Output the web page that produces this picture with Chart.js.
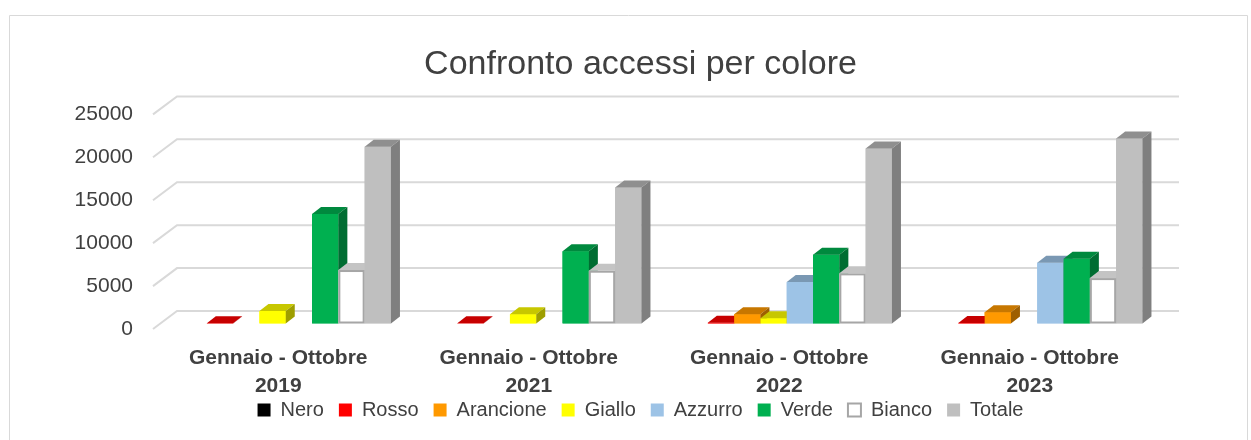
<!DOCTYPE html>
<html lang="it">
<head>
<meta charset="UTF-8">
<title>Confronto accessi per colore</title>
<script src="https://cdn.jsdelivr.net/npm/chart.js"></script>
<style>
    body {
        margin: 0;
        background-color: #fff;
    }

    .chart-container {
        width: 1251px;
        height: 440px;
    }
</style>
</head>
<body>
<div class="chart-container">
    <canvas id="accessiChart"></canvas>
</div>
<script>
    // Dati (accessi gennaio - ottobre per anno)
    var periodi = [['Gennaio - Ottobre', '2019'], ['Gennaio - Ottobre', '2021'], ['Gennaio - Ottobre', '2022'], ['Gennaio - Ottobre', '2023']];
    var nero = [0, 0, 0, 0];
    var rosso = [40, 30, 90, 70];
    var arancione = [0, 0, 1090, 1320];
    var giallo = [1460, 1090, 620, 0];
    var azzurro = [0, 0, 4830, 7080];
    var verde = [12770, 8410, 8020, 7550];
    var bianco = [6230, 6150, 5840, 5290];
    var totale = [20600, 15850, 20400, 21550];
    var tickY = [0, 5000, 10000, 15000, 20000, 25000];

    // Spostamenti per l'effetto 3D
    var OFF_X = 7.5, OFF_Y = -5.5;   // barre rispetto al piano frontale
    var DEP_X = 9, DEP_Y = 7;         // profondita' delle barre
    var BACK_X = 24, BACK_Y = 18;     // parete di fondo

    function scurisci(hex, f) {
        var n = parseInt(hex.slice(1), 16);
        var r = Math.round(((n >> 16) & 255) * f);
        var g = Math.round(((n >> 8) & 255) * f);
        var b = Math.round((n & 255) * f);
        return 'rgb(' + r + ',' + g + ',' + b + ')';
    }

    function serie(nome, valori, colore, extra) {
        var ds = {
            label: nome,
            data: valori,
            backgroundColor: colore,
            borderWidth: 0,
            topColor: scurisci(colore, 0.78),
            sideColor: scurisci(colore, 0.62)
        };
        for (var k in extra) ds[k] = extra[k];
        return ds;
    }

    var effetto3d = {
        id: 'effetto3d',
        afterLayout: function(chart) {
            // l'asse x non deve tagliare la seconda riga delle etichette
            var x = chart.scales.x;
            x.bottom = x.top + 80;
        },
        beforeDraw: function(chart) {
            var ctx = chart.ctx;
            ctx.save();
            ctx.strokeStyle = '#d9d9d9';
            ctx.lineWidth = 1;
            ctx.beginPath();
            ctx.moveTo(9.5, 440);
            ctx.lineTo(9.5, 15.5);
            ctx.lineTo(1247.5, 15.5);
            ctx.lineTo(1247.5, 440);
            ctx.stroke();
            ctx.restore();
        },
        beforeDatasetsDraw: function(chart) {
            var ctx = chart.ctx, a = chart.chartArea, y = chart.scales.y;
            ctx.save();
            ctx.strokeStyle = '#d9d9d9';
            ctx.lineWidth = 2;
            y.ticks.forEach(function(t) {
                var py = y.getPixelForValue(t.value);
                ctx.beginPath();
                ctx.moveTo(a.left, py);
                ctx.lineTo(a.left + BACK_X, py - BACK_Y);
                ctx.lineTo(a.right + BACK_X, py - BACK_Y);
                ctx.stroke();
            });
            ctx.restore();
            ctx.save();
            ctx.translate(OFF_X, OFF_Y);
        },
        afterDatasetsDraw: function(chart) {
            var ctx = chart.ctx;
            var sets = chart.data.datasets;
            // ridisegno per categoria, da sinistra a destra, per sovrapporre bene le facce
            for (var j = 0; j < periodi.length; j++) {
                for (var i = 0; i < sets.length; i++) {
                    var ds = sets[i];
                    var v = ds.data[j];
                    if (!v) continue;
                    var bar = chart.getDatasetMeta(i).data[j];
                    var l = bar.x - bar.width / 2, r = bar.x + bar.width / 2;
                    var top = bar.y, base = bar.base;
                    ctx.fillStyle = ds.backgroundColor;
                    ctx.fillRect(l, top, r - l, base - top);
                    if (ds.borderWidth) {
                        ctx.strokeStyle = ds.borderColor;
                        ctx.lineWidth = ds.borderWidth;
                        ctx.strokeRect(l + 1, top + 1, r - l - 2, base - top - 2);
                    }
                    ctx.fillStyle = ds.topColor;
                    ctx.beginPath();
                    ctx.moveTo(l, top);
                    ctx.lineTo(r, top);
                    ctx.lineTo(r + DEP_X, top - DEP_Y);
                    ctx.lineTo(l + DEP_X, top - DEP_Y);
                    ctx.closePath();
                    ctx.fill();
                    ctx.fillStyle = ds.sideColor;
                    ctx.beginPath();
                    ctx.moveTo(r, top);
                    ctx.lineTo(r + DEP_X, top - DEP_Y);
                    ctx.lineTo(r + DEP_X, base - DEP_Y);
                    ctx.lineTo(r, base);
                    ctx.closePath();
                    ctx.fill();
                }
            }
            ctx.restore();
        }
    };

    Chart.defaults.font.family = "'Liberation Sans', Arial, sans-serif";
    Chart.defaults.color = '#404040';

    var ctx = document.getElementById('accessiChart').getContext('2d');
    var accessiChart = new Chart(ctx, {
        type: 'bar',
        data: {
            labels: periodi,
            datasets: [
                serie('Nero', nero, '#000000'),
                serie('Rosso', rosso, '#ff0000'),
                serie('Arancione', arancione, '#ff9900'),
                serie('Giallo', giallo, '#ffff00'),
                serie('Azzurro', azzurro, '#9dc3e6'),
                serie('Verde', verde, '#00b050'),
                serie('Bianco', bianco, '#ffffff', {
                    borderColor: '#a6a6a6',
                    borderWidth: 2,
                    borderSkipped: false,
                    topColor: '#c4c4c4',
                    sideColor: '#a6a6a6'
                }),
                serie('Totale', totale, '#bfbfbf', { sideColor: '#7f7f7f', topColor: '#8f8f8f' })
            ]
        },
        options: {
            responsive: true,
            maintainAspectRatio: false,
            animation: false,
            categoryPercentage: 0.84,
            barPercentage: 1.0,
            layout: {
                padding: { top: 15, left: 30, right: 0, bottom: 10 }
            },
            plugins: {
                title: {
                    display: true,
                    text: 'Confronto accessi per colore',
                    color: '#404040',
                    font: { size: 34, weight: 'normal' },
                    padding: { top: 29, bottom: 29.6 }
                },
                legend: {
                    position: 'bottom',
                    labels: {
                        color: '#404040',
                        font: { size: 20 },
                        boxWidth: 13,
                        boxHeight: 13,
                        padding: 15
                    }
                },
                tooltip: { enabled: false }
            },
            scales: {
                x: {
                    grid: { display: false, drawTicks: false },
                    border: { display: false },
                    ticks: {
                        padding: 15,
                        color: '#404040',
                        font: { size: 21, weight: 'bold', lineHeight: 1.33 },
                        maxRotation: 0,
                        autoSkip: false
                    },
                    afterFit: function(s) { s.height = 56; }
                },
                y: {
                    min: 0,
                    max: 25000,
                    grid: { display: false, drawTicks: false },
                    border: { display: false },
                    ticks: {
                        stepSize: 5000,
                        padding: 20,
                        color: '#404040',
                        font: { size: 21 },
                        callback: function(v) { return String(v); }
                    },
                    afterBuildTicks: function(s) {
                        s.ticks = tickY.map(function(v) { return { value: v }; });
                    },
                    afterFit: function(s) { s.width = 123; }
                },
                y2: {
                    type: 'linear',
                    position: 'right',
                    grid: { display: false, drawTicks: false },
                    border: { display: false },
                    ticks: { display: false },
                    afterFit: function(s) { s.width = 96; }
                }
            }
        },
        plugins: [effetto3d]
    });
</script>
</body>
</html>
